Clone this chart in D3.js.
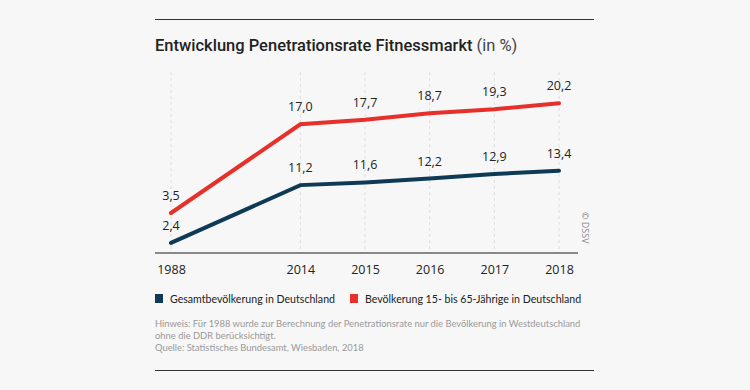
<!DOCTYPE html>
<html>
<head>
<meta charset="utf-8">
<script src="https://cdn.jsdelivr.net/npm/d3@7"></script>
<style>
  html, body { margin: 0; padding: 0; background: #f7f7f7; }
  svg { display: block; }
</style>
</head>
<body>
<script>
const categories = ["1988", "", "2014", "2015", "2016", "2017", "2018"];
const years = ["1988", "2014", "2015", "2016", "2017", "2018"];
const gesamt = [2.4, 11.2, 11.6, 12.2, 12.9, 13.4];
const jaehrige = [3.5, 17.0, 17.7, 18.7, 19.3, 20.2];
const seriesNames = ["Gesamtbevölkerung in Deutschland", "Bevölkerung 15- bis 65-Jährige in Deutschland"];
const seriesColors = ["#0e3a55", "#e6302a"];
const titleMain = "Entwicklung Penetrationsrate Fitnessmarkt";
const titleUnit = " (in %)";
const notes = [
  "Hinweis: Für 1988 wurde zur Berechnung der Penetrationsrate nur die Bevölkerung in Westdeutschland",
  "ohne die DDR berücksichtigt.",
  "Quelle: Statistisches Bundesamt, Wiesbaden, 2018"
];
const credit = "© DSSV";

const W = 750, H = 390;
const svg = d3.select("body").append("svg").attr("width", W).attr("height", H);
svg.append("rect").attr("width", W).attr("height", H).attr("fill", "#f7f7f7");

const left = 155, right = 594;
svg.append("line").attr("x1", left).attr("x2", right).attr("y1", 19.5).attr("y2", 19.5)
  .attr("stroke", "#333").attr("stroke-width", 1.2);
svg.append("line").attr("x1", left).attr("x2", right).attr("y1", 370.5).attr("y2", 370.5)
  .attr("stroke", "#333").attr("stroke-width", 1.2);

const t = svg.append("text").attr("x", left).attr("y", 51)
  .attr("font-family", "Roboto, sans-serif").attr("font-size", 16.5).attr("fill", "#222");
t.append("tspan").attr("font-weight", 500).text(titleMain);
t.append("tspan").attr("font-weight", 400).attr("fill", "#444").text(titleUnit);

// scales: the reference draws the two series with the same vertical scale but a different baseline
const x = d3.scalePoint().domain(categories).range([171, 559]);
const yScales = [
  d3.scaleLinear().domain([0, 22]).range([258.7, 258.7 - 22 * 6.57]),
  d3.scaleLinear().domain([0, 22]).range([236, 236 - 22 * 6.57])
];
const axisY = 253;

svg.append("g").selectAll("line").data(years).join("line")
  .attr("x1", d => x(d)).attr("x2", d => x(d))
  .attr("y1", 72).attr("y2", axisY)
  .attr("stroke", "#dedede").attr("stroke-width", 1).attr("stroke-dasharray", "3,3");

const xAxis = d3.axisBottom(x).tickValues(years).tickSize(0).tickPadding(10);
const ax = svg.append("g").attr("transform", `translate(0,${axisY})`).call(xAxis);
ax.select(".domain").remove();
ax.selectAll("text").attr("font-family", "'Open Sans', sans-serif").attr("font-size", 12.5)
  .attr("fill", "#222").attr("dy", "0.9em");
svg.append("line").attr("x1", left).attr("x2", 578).attr("y1", axisY).attr("y2", axisY)
  .attr("stroke", "#888").attr("stroke-width", 2);

const data = [gesamt, jaehrige];
data.forEach((vals, s) => {
  const y = yScales[s];
  const line = d3.line().x((d, i) => x(years[i])).y(d => y(d));
  svg.append("path").datum(vals).attr("d", line)
    .attr("fill", "none").attr("stroke", seriesColors[s]).attr("stroke-width", 4)
    .attr("stroke-linejoin", "miter").attr("stroke-linecap", "round");
  svg.append("g").selectAll("text").data(vals).join("text")
    .attr("x", (d, i) => x(years[i])).attr("y", d => y(d) - 13)
    .attr("text-anchor", "middle")
    .attr("font-family", "'Open Sans', sans-serif").attr("font-size", 12.5).attr("fill", "#222")
    .text(d => d3.format(".1f")(d).replace(".", ","));
});

svg.append("text").attr("transform", "translate(582,212) rotate(90)")
  .attr("font-family", "'Open Sans', sans-serif").attr("font-size", 9).attr("fill", "#888")
  .text(credit);

let lx = left;
seriesNames.forEach((name, s) => {
  svg.append("rect").attr("x", lx).attr("y", 294).attr("width", 8).attr("height", 9).attr("fill", seriesColors[s]);
  const tx = svg.append("text").attr("x", lx + 15).attr("y", 302.5)
    .attr("font-family", "Lato, 'Open Sans', sans-serif").attr("font-size", 10.6).attr("fill", "#222").text(name);
  lx = lx + 15 + tx.node().getComputedTextLength() + 15;
});

svg.append("g").selectAll("text").data(notes).join("text")
  .attr("x", left).attr("y", (d, i) => 327 + i * 12)
  .attr("font-family", "Lato, 'Open Sans', sans-serif").attr("font-size", 9.4).attr("fill", "#999")
  .text(d => d);
</script>
</body>
</html>
